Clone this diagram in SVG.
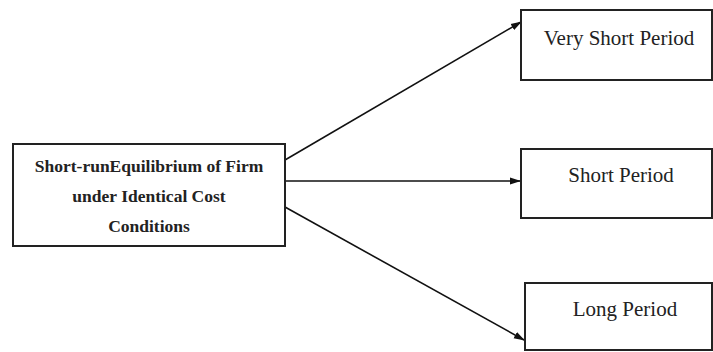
<svg xmlns="http://www.w3.org/2000/svg" width="713" height="352" viewBox="0 0 713 352">
<style>
.box{fill:#fff;stroke:#222;stroke-width:2}
.t{font-family:"Liberation Serif",serif;font-size:21px;fill:#222;text-anchor:middle}
.b{font-family:"Liberation Serif",serif;font-size:17.5px;font-weight:bold;fill:#222;text-anchor:middle}
.c{stroke:#111;stroke-width:1.6;fill:none;marker-end:url(#ah)}
</style>
<defs>
<marker id="ah" markerWidth="11" markerHeight="8" refX="10" refY="4" orient="auto" markerUnits="userSpaceOnUse">
<path d="M0,0.5 L11,4 L0,7.5 Z" fill="#111"/>
</marker>
</defs>
<rect width="713" height="352" fill="#fff"/>
<g id="connectors">
<path class="c" d="M285,160 L521,22"/>
<path class="c" d="M285,181 L520,181"/>
<path class="c" d="M285,207 L524,340"/>
</g>
<g id="n-main">
<rect class="box" x="13" y="144" width="272" height="102"/>
<text class="b" x="149" y="172">Short-runEquilibrium of Firm</text>
<text class="b" x="149" y="202">under Identical Cost</text>
<text class="b" x="149" y="232">Conditions</text>
</g>
<g id="n-very">
<rect class="box" x="521" y="10" width="191" height="70"/>
<text class="t" x="619" y="45">Very Short Period</text>
</g>
<g id="n-short">
<rect class="box" x="521" y="149" width="191" height="69"/>
<text class="t" x="621" y="182">Short Period</text>
</g>
<g id="n-long">
<rect class="box" x="525" y="283" width="187" height="67"/>
<text class="t" x="625" y="316">Long Period</text>
</g>
</svg>
